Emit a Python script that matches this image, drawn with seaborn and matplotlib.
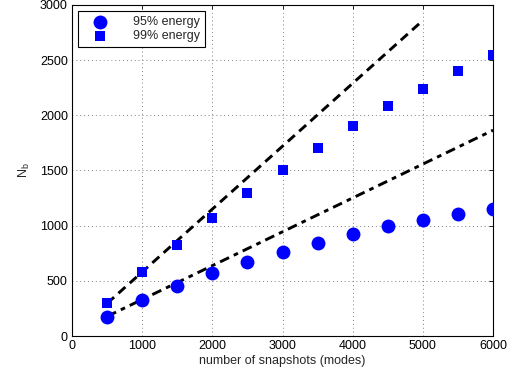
import matplotlib
matplotlib.use("Agg")
import matplotlib.pyplot as plt
import seaborn as sns
import pandas as pd

snapshots = [500, 1000, 1500, 2000, 2500, 3000, 3500, 4000, 4500, 5000, 5500, 6000]
nb_95 = [175, 330, 455, 575, 675, 762, 845, 925, 995, 1050, 1105, 1152]
nb_99 = [296, 582, 822, 1070, 1293, 1500, 1708, 1905, 2086, 2240, 2405, 2547]

line1_x = [500, 5000]
line1_y = [296, 2860]
line2_x = [500, 6000]
line2_y = [178, 1865]

sns.set_theme(style="white")
plt.rcParams['font.family'] = ['Liberation Sans', 'DejaVu Sans']
plt.rcParams['mathtext.fontset'] = 'custom'
plt.rcParams['mathtext.rm'] = 'Liberation Sans'

fig = plt.figure(figsize=(5.11, 3.78), dpi=100)
ax = fig.add_axes([0.141, 0.111, 0.824, 0.876])

df = pd.DataFrame({
    "x": snapshots * 2,
    "y": nb_95 + nb_99,
    "series": ["95% energy"] * len(snapshots) + ["99% energy"] * len(snapshots),
})

sns.lineplot(x=line1_x, y=line1_y, ax=ax, color="black", lw=2.1,
             linestyle=(0, (3.2, 2.0)), legend=False)
sns.lineplot(x=line2_x, y=line2_y, ax=ax, color="black", lw=2.1,
             linestyle=(0, (3.4, 1.8, 1.6, 1.8)), legend=False)

sub95 = df[df.series == "95% energy"]
sub99 = df[df.series == "99% energy"]
sns.scatterplot(data=sub95, x="x", y="y", marker="o", s=100, color="#0000ff",
                edgecolor="#0000ff", linewidth=0, ax=ax, label="95% energy", zorder=3)
sns.scatterplot(data=sub99, x="x", y="y", marker="s", s=58, color="#0000ff",
                edgecolor="#0000ff", linewidth=0, ax=ax, label="99% energy", zorder=3)

ax.set_xlim(0, 6000)
ax.set_ylim(0, 3000)
ax.set_xticks(range(0, 6001, 1000))
ax.set_yticks(range(0, 3001, 500))
ax.grid(True, color="#808080", linestyle=(0, (1, 3)), linewidth=0.7)
ax.tick_params(direction="in", length=3, width=0.6, top=True, right=True,
               labelsize=9, colors="black", pad=3)
for sp in ax.spines.values():
    sp.set_color("black")
    sp.set_linewidth(0.8)
ax.set_xlabel("number of snapshots (modes)", fontsize=9, labelpad=2)
ax.set_ylabel(r"N$_\mathrm{b}$", fontsize=9, labelpad=6)

leg = ax.legend(loc="upper left", fontsize=9, frameon=True, fancybox=False,
                edgecolor="black", framealpha=1, borderaxespad=0.5,
                handletextpad=1.4, borderpad=0.4, labelspacing=0.15,
                handlelength=2.6)
leg.get_frame().set_linewidth(0.8)

fig.savefig("out.png", dpi=100)
